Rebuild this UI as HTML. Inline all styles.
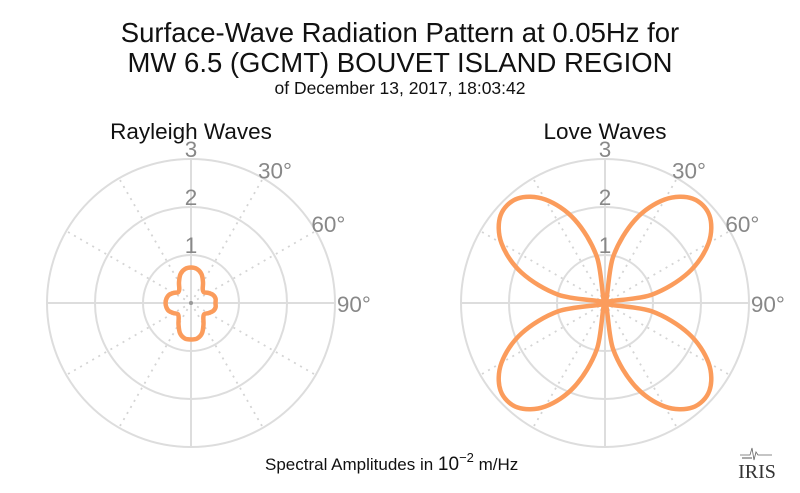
<!DOCTYPE html>
<html><head><meta charset="utf-8"><style>
html,body{margin:0;padding:0;background:#fff;}
svg{display:block;font-family:"Liberation Sans",sans-serif;}
</style></head><body>
<svg id="chart" width="800" height="493" viewBox="0 0 800 493">
<text x="400" y="42" text-anchor="middle" font-size="27.5" fill="#111">Surface-Wave Radiation Pattern at 0.05Hz for</text>
<text x="400" y="72" text-anchor="middle" font-size="27.5" fill="#111">MW 6.5 (GCMT) BOUVET ISLAND REGION</text>
<text x="400" y="94" text-anchor="middle" font-size="17.5" fill="#111">of December 13, 2017, 18:03:42</text>
<text x="191" y="139" text-anchor="middle" font-size="22.5" fill="#111">Rayleigh Waves</text>
<text x="605" y="139" text-anchor="middle" font-size="22.5" fill="#111">Love Waves</text>
<g id="p1"></g>
<g id="p2"></g>
<text x="265" y="470" font-size="17" fill="#111">Spectral Amplitudes in <tspan font-size="19">10</tspan><tspan dy="-8" font-size="13">−2</tspan><tspan dy="8"> m/Hz</tspan></text>
<g>
<path d="M740 455 L750 455 L752 448 L754 460 L756 452 L758 455 L772 455" stroke="#666" stroke-width="0.8" fill="none"/>
<line x1="742" y1="458" x2="752" y2="458" stroke="#555" stroke-width="1"/>
<text x="757" y="478" text-anchor="middle" font-family="'Liberation Serif',serif" font-size="20" fill="#333">IRIS</text>
</g>
</svg>
<script>
const azimuths = [0,10,20,30,40,50,60,70,80,90,100,110,120,130,140,150,160,170,180,190,200,210,220,230,240,250,260,270,280,290,300,310,320,330,340,350];
const rayleighAmp = [0.74,0.72,0.64,0.50,0.38,0.35,0.42,0.49,0.52,0.51,0.52,0.49,0.42,0.36,0.40,0.52,0.67,0.75,0.76,0.75,0.67,0.52,0.40,0.36,0.42,0.49,0.52,0.53,0.52,0.49,0.42,0.35,0.38,0.50,0.64,0.72];
const loveAmp = [0,0.98,1.85,2.49,2.84,2.84,2.49,1.85,0.98,0,0.98,1.85,2.49,2.84,2.84,2.49,1.85,0.98,0,0.98,1.85,2.49,2.84,2.84,2.49,1.85,0.98,0,0.98,1.85,2.49,2.84,2.84,2.49,1.85,0.98];
const ringValues = [1,2,3];
const angleLabels = ["30°","60°","90°"];
const angleLabelDeg = [30,60,90];
const NS="http://www.w3.org/2000/svg";
const PX=48;
function mk(tag,attrs,parent){const e=document.createElementNS(NS,tag);for(const k in attrs)e.setAttribute(k,attrs[k]);parent.appendChild(e);return e;}
function pt(cx,cy,az,r){const a=az*Math.PI/180;return [cx+Math.sin(a)*r*PX, cy-Math.cos(a)*r*PX];}
function drawPolar(g,cx,cy,amps,name){
  for(const v of ringValues){
    const c=mk('circle',{cx:cx,cy:cy,r:v*PX,fill:'none',stroke:'#ddd','stroke-width':2},g);
    
    
  }
  for(let a=0;a<360;a+=30){
    const p=pt(cx,cy,a,3);
    const solid=a%90===0;
    const l=mk('line',{x1:cx,y1:cy,x2:p[0],y2:p[1],stroke:solid?'#ddd':'#d4d4d4','stroke-width':solid?2:1.8,'stroke-dasharray':solid?'':'2,5'},g);
    
    
  }
  mk('circle',{cx:cx,cy:cy,r:2,fill:'#999'},g);
  for(const v of ringValues){
    const t=mk('text',{x:cx,y:cy-v*PX-2,'text-anchor':'middle','font-size':22.5,fill:'#888'},g);
    t.textContent=v;
    
    
  }
  angleLabelDeg.forEach((d,i)=>{
    const p=pt(cx,cy,d,3.04);
    const t=mk('text',{x:p[0]+(d===90?0:-6),y:p[1]+(d===90?9:2),'font-size':22.5,fill:'#888'},g);
    t.textContent=angleLabels[i];
    
    
  });
  const pts=azimuths.map((a,i)=>pt(cx,cy,a,amps[i]));
  const n=pts.length;let d='M'+pts[0][0].toFixed(2)+' '+pts[0][1].toFixed(2);
  for(let i=0;i<n;i++){
    const p0=pts[(i-1+n)%n],p1=pts[i],p2=pts[(i+1)%n],p3=pts[(i+2)%n];
    const c1=[p1[0]+(p2[0]-p0[0])/6,p1[1]+(p2[1]-p0[1])/6];
    const c2=[p2[0]-(p3[0]-p1[0])/6,p2[1]-(p3[1]-p1[1])/6];
    d+=' C'+c1[0].toFixed(2)+' '+c1[1].toFixed(2)+' '+c2[0].toFixed(2)+' '+c2[1].toFixed(2)+' '+p2[0].toFixed(2)+' '+p2[1].toFixed(2);
  }
  const path=mk('path',{d:d+'Z',fill:'none',stroke:'#fb9c5c','stroke-width':4.5,'stroke-linejoin':'round'},g);
  
  
}
drawPolar(document.getElementById('p1'),191,303,rayleighAmp,'rayleigh-pattern-line');
drawPolar(document.getElementById('p2'),605,303,loveAmp,'love-pattern-line');
</script>
</body></html>
